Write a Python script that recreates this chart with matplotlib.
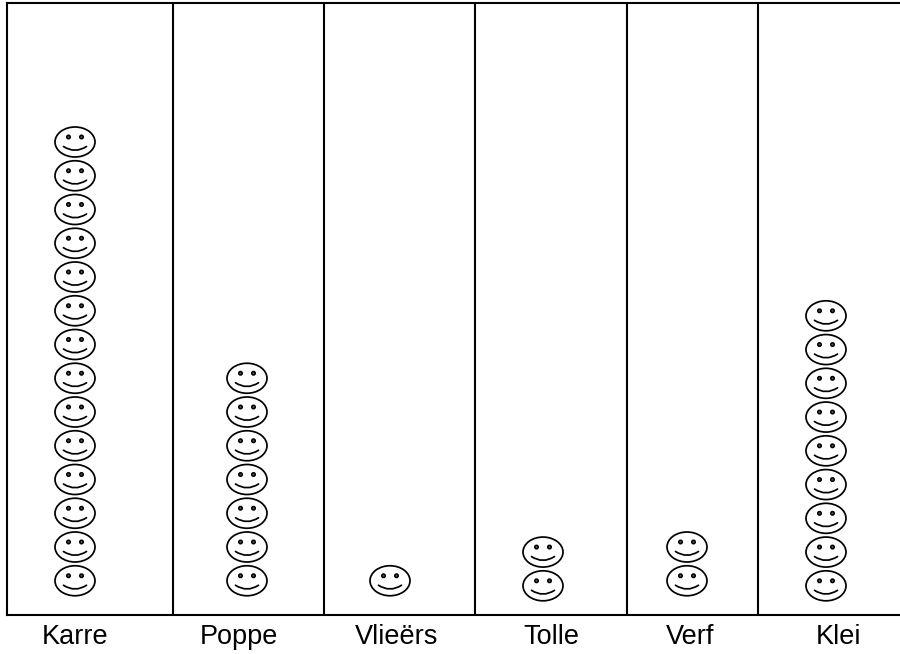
import matplotlib
matplotlib.use("Agg")
import matplotlib.pyplot as plt
from matplotlib.patches import Ellipse, PathPatch
from matplotlib.path import Path

plt.rcParams['font.family'] = ['Liberation Sans', 'DejaVu Sans']

categories = ["Karre", "Poppe", "Vlieërs", "Tolle", "Verf", "Klei"]
counts = [14, 7, 1, 2, 2, 9]
dividers = [173, 324, 475, 627, 758]
icon_x = [75, 247, 390, 543, 687, 826]
label_x = [75, 239, 397, 551, 690, 839]
icon_lift = [0, 0, 0, -0.15, 0, -0.15]

W, H = 900, 654
L, T, B = 7, 3, 614.5
STEP = 33.75

fig = plt.figure(figsize=(W / 100, H / 100), dpi=100)
ax = fig.add_axes([L / W, 1 - B / H, (W - L) / W, (B - T) / H])
ax.set_xlim(L, W)
ax.set_ylim(0, (B - T) / STEP)

for s in ['top', 'left', 'bottom']:
    ax.spines[s].set_linewidth(1.5)
    ax.spines[s].set_color('black')
ax.spines['right'].set_visible(False)

for d in dividers:
    ax.axvline(d, color='black', lw=1.5)

ax.set_yticks([])
ax.set_xticks(label_x)
ax.set_xticklabels(categories, fontsize=19.5)
ax.tick_params(axis='x', length=0, pad=6.5)

px = 1 / STEP  # one pixel in y units


def smiley(x, y):
    ax.add_patch(Ellipse((x, y), 40, 30 * px, fc='white', ec='black', lw=1.25))
    for dx in (-6.5, 6.5):
        ax.add_patch(Ellipse((x + dx, y + 5 * px), 3.5, 3.5 * px,
                             fc='#555555', ec='black', lw=1.1))
    mouth = Path([(x - 11.5, y - 4.5 * px), (x, y - 12 * px), (x + 11.5, y - 4.5 * px)],
                 [Path.MOVETO, Path.CURVE3, Path.CURVE3])
    ax.add_patch(PathPatch(mouth, fc='none', ec='black', lw=1.25, snap=False,
                           capstyle='round'))


for cx, n, lift in zip(icon_x, counts, icon_lift):
    for i in range(n):
        smiley(cx, i + 1 + lift)

fig.savefig("out.png", dpi=100)
